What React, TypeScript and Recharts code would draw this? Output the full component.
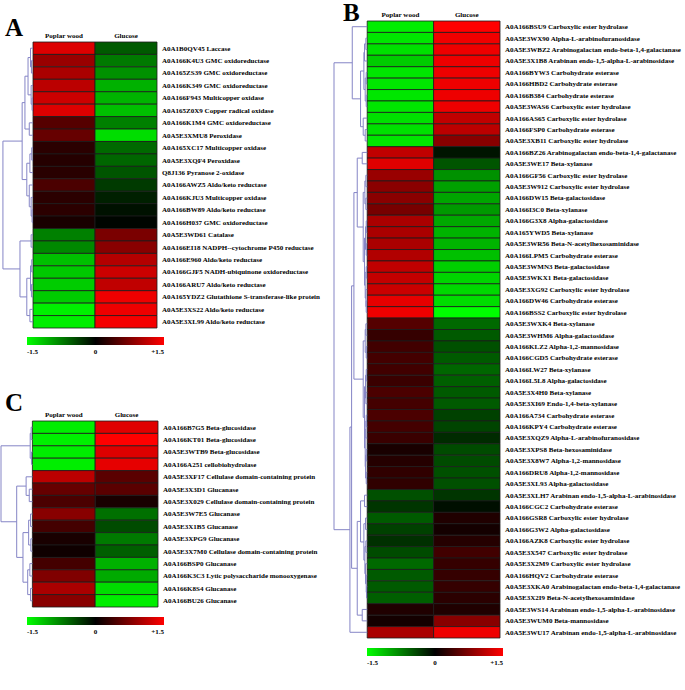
import React from 'react';
import { ComposedChart, XAxis, YAxis, Scatter, ReferenceArea, ReferenceLine } from 'recharts';

type Tree = number | [number, Tree, Tree];

const columns = ['Poplar wood', 'Glucose'];
const scaleTicks = [-1.5, 0, 1.5];

const aLabels = [
  'A0A1B0QV45 Laccase',
  'A0A166K4U3 GMC oxidoreductase',
  'A0A165ZS39 GMC oxidoreductase',
  'A0A166K349 GMC oxidoreductase',
  'A0A166F943 Multicopper oxidase',
  'A0A165Z0X9 Copper radical oxidase',
  'A0A166K1M4 GMC oxidoreductase',
  'A0A5E3XMU8 Peroxidase',
  'A0A165XC17 Multicopper oxidase',
  'A0A5E3XQF4 Peroxidase',
  'Q8J136 Pyranose 2-oxidase',
  'A0A166AWZ5 Aldo/keto reductase',
  'A0A166KJU3 Multicopper oxidase',
  'A0A166BW89 Aldo/keto reductase',
  'A0A166H037 GMC oxidoreductase',
  'A0A5E3WD61 Catalase',
  'A0A166EI18 NADPH--cytochrome P450 reductase',
  'A0A166E960 Aldo/keto reductase',
  'A0A166GJF5 NADH-ubiquinone oxidoreductase',
  'A0A166ARU7 Aldo/keto reductase',
  'A0A165YDZ2 Glutathione S-transferase-like protein',
  'A0A5E3XS22 Aldo/keto reductase',
  'A0A5E3XL99 Aldo/keto reductase',
];
const aPoplar = [1.3, 0.9, 1.0, 1.1, 1.2, 1.3, 0.5, 0.6, 0.25, 0.22, 0.24, 0.44, 0.25, 0.25, 0.15, -0.75, -0.8, -1.13, -1.18, -1.2, -1.2, -1.41, -1.4];
const aGlucose = [-0.53, -0.72, -0.85, -1.04, -1.06, -1.13, -0.75, -1.3, -0.62, -0.6, -0.5, -0.34, -0.19, -0.1, -0.03, 0.72, 0.8, 1.06, 1.2, 1.13, 1.4, 1.4, 1.44];
const aTree: Tree = [0.97,
  [0.35,
    [0.26, [0.16, [0.08, 0, [0.05, 1, 2]], [0.06, 3, [0.03, 4, 5]]], [0.12, 6, 7]],
    [0.2, [0.1, [0.04, 8, 9], 10], [0.12, 11, [0.06, 12, [0.03, 13, 14]]]]],
  [0.42, [0.06, 15, 16], [0.2, [0.08, [0.04, 17, 18], [0.05, 19, 20]], [0.1, 21, 22]]]];

const bLabels = [
  'A0A166BSU9 Carboxylic ester hydrolase',
  'A0A5E3WX90 Alpha-L-arabinofuranosidase',
  'A0A5E3WBZ2 Arabinogalactan endo-beta-1,4-galactanase',
  'A0A5E3X1B8 Arabinan endo-1,5-alpha-L-arabinosidase',
  'A0A166BYW3 Carbohydrate esterase',
  'A0A166HBD2 Carbohydrate esterase',
  'A0A166B384 Carbohydrate esterase',
  'A0A5E3WAS6 Carboxylic ester hydrolase',
  'A0A166AS65 Carboxylic ester hydrolase',
  'A0A166FSP0 Carbohydrate esterase',
  'A0A5E3XB11 Carboxylic ester hydrolase',
  'A0A166BZ26 Arabinogalactan endo-beta-1,4-galactanase',
  'A0A5E3WE17 Beta-xylanase',
  'A0A166GF56 Carboxylic ester hydrolase',
  'A0A5E3W912 Carboxylic ester hydrolase',
  'A0A166DW15 Beta-galactosidase',
  'A0A166I3C0 Beta-xylanase',
  'A0A166G3X8 Alpha-galactosidase',
  'A0A165YWD5 Beta-xylanase',
  'A0A5E3WR56 Beta-N-acetylhexosaminidase',
  'A0A166LPM5 Carbohydrate esterase',
  'A0A5E3WMN3 Beta-galactosidase',
  'A0A5E3WKX1 Beta-galactosidase',
  'A0A5E3XG92 Carboxylic ester hydrolase',
  'A0A166DW46 Carbohydrate esterase',
  'A0A166BSS2 Carboxylic ester hydrolase',
  'A0A5E3WXK4 Beta-xylanase',
  'A0A5E3WHM6 Alpha-galactosidase',
  'A0A166KLZ2 Alpha-1,2-mannosidase',
  'A0A166CGD5 Carbohydrate esterase',
  'A0A166LW27 Beta-xylanase',
  'A0A166L5L8 Alpha-galactosidase',
  'A0A5E3X4H0 Beta-xylanase',
  'A0A5E3XI69 Endo-1,4-beta-xylanase',
  'A0A166A734 Carbohydrate esterase',
  'A0A166KPY4 Carbohydrate esterase',
  'A0A5E3XQZ9  Alpha-L-arabinofuranosidase',
  'A0A5E3XPS8 Beta-hexosaminidase',
  'A0A5E3X8W7 Alpha-1,2-mannosidase',
  'A0A166DRU8 Alpha-1,2-mannosidase',
  'A0A5E3XL93 Alpha-galactosidase',
  'A0A5E3XLH7 Arabinan endo-1,5-alpha-L-arabinosidase',
  'A0A166CGC2 Carbohydrate esterase',
  'A0A166GSR8 Carboxylic ester hydrolase',
  'A0A166G3W2 Alpha-galactosidase',
  'A0A166AZK8 Carboxylic ester hydrolase',
  'A0A5E3X547 Carboxylic ester hydrolase',
  'A0A5E3X2M9 Carboxylic ester hydrolase',
  'A0A166HQV2 Carbohydrate esterase',
  'A0A5E3XKA0 Arabinogalactan endo-beta-1,4-galactanase',
  'A0A5E3X2I9 Beta-N-acetylhexosaminidase',
  'A0A5E3WS14 Arabinan endo-1,5-alpha-L-arabinosidase',
  'A0A5E3WUM0 Beta-mannosidase',
  'A0A5E3WU17 Arabinan endo-1,5-alpha-L-arabinosidase',
];
const bPoplar = [
  -1.4, -1.35, -1.32, -1.2, -1.35, -1.35, -1.35, -1.35, -1.32, -1.32, -1.35,
  1.13, 1.32, 0.9, 0.81, 0.81, 0.7, 1.0, 1.0, 1.0, 1.04, 1.13, 1.15, 1.18, 1.35, 1.4,
  0.5, 0.31, 0.38, 0.4, 0.38, 0.34, 0.44, 0.4, 0.44, 0.4, 0.34, 0.15, 0.22, 0.28, 0.28,
  -0.47, -0.31, -0.53, -0.38, -0.28, -0.44, -0.62, -0.53, -0.53, -0.56,
  0.19, 0.12, 1.0,
];
const bGlucose = [
  1.5, 1.41, 1.4, 1.4, 1.4, 1.4, 1.4, 1.4, 1.13, 1.1, 0.8,
  -0.12, -0.5, -0.85, -0.94, -0.97, -0.9, -0.99, -1.06, -1.06, -1.13, -1.22, -1.25, -1.27, -1.3, -1.5,
  -0.62, -0.53, -0.47, -0.53, -0.6, -0.56, -0.53, -0.53, -0.38, -0.4, -0.25, -0.44, -0.44, -0.47, -0.47,
  -0.31, -0.09, 0.19, 0.12, 0.22, 0.38, 0.31, 0.31, 0.31, 0.25,
  0.19, 0.8, 1.4,
];
const bTree: Tree = [1.0,
  [0.45, 0, [0.2, [0.1, [0.08, [0.04, 1, 2], 3], [0.06, [0.03, 4, 5], [0.03, 6, 7]]], [0.12, 8, [0.06, 9, 10]]]],
  [0.52,
    [0.47,
      [0.4,
        [0.3, [0.15, 11, 12], [0.12, [0.07, [0.04, 13, 14], [0.04, 15, 16]], [0.08, [0.05, [0.03, 17, 18], [0.03, 19, 20]], [0.06, [0.03, 21, 22], [0.04, 23, [0.03, 24, 25]]]]]],
        [0.12, [0.06, [0.04, 26, 27], [0.03, 28, 29]], [0.08, [0.05, [0.03, 30, 31], [0.04, 32, 33]], [0.06, [0.04, [0.03, 34, 35], 36], [0.05, [0.03, 37, 38], [0.03, 39, 40]]]]]],
      [0.3, [0.2, [0.08, 41, 42], [0.1, [0.05, 43, 44], [0.07, [0.04, 45, 46], [0.05, 47, [0.03, 48, [0.02, 49, 50]]]]]], [0.15, 51, 52]]],
    53]];

const cLabels = [
  'A0A166B7G5 Beta-glucosidase',
  'A0A166KT01 Beta-glucosidase',
  'A0A5E3WTB9 Beta-glucosidase',
  'A0A166A251 cellobiohydrolase',
  'A0A5E3XF17 Cellulase domain-containing protein',
  'A0A5E3X3D1 Glucanase',
  'A0A5E3X029 Cellulase domain-containing protein',
  'A0A5E3W7E5 Glucanase',
  'A0A5E3X1B5 Glucanase',
  'A0A5E3XPG9 Glucanase',
  'A0A5E3X7M0 Cellulase domain-containing protein',
  'A0A166BSP0 Glucanase',
  'A0A166K3C3 Lytic polysaccharide monooxygenase',
  'A0A166K8S4 Glucanase',
  'A0A166BU26 Glucanase',
];
const cPoplar = [-1.4, -1.41, -1.4, -1.4, 1.1, 0.6, 0.44, 0.8, 0.4, 0.15, 0.09, 0.4, 0.75, 1.0, 0.8];
const cGlucose = [1.32, 1.5, 1.3, 1.35, 0.53, 0.53, 0.15, -0.66, -0.44, -0.72, -0.56, -1.04, -1.0, -1.3, -1.4];
const cTree: Tree = [1.0,
  [0.07, [0.04, 0, 1], [0.03, 2, 3]],
  [0.5, [0.2, 4, [0.1, 5, 6]], [0.3, [0.12, [0.06, 7, 8], [0.05, 9, 10]], [0.15, [0.08, 11, 12], [0.06, 13, 14]]]]];

const FONT = '"Liberation Serif", "Times New Roman", serif';
const DENDRO_W = 0.5;
const TREE_COLOR = '#8585c6';

function heatColor(v: number) {
  const t = Math.max(-1, Math.min(1, v / 1.5));
  const c = Math.round(Math.abs(t) * 255);
  return t >= 0 ? `rgb(${c},0,0)` : `rgb(0,${c},0)`;
}

type Pt = { x: number; y: number };

function dendroSegments(tree: Tree) {
  const segs: Array<[Pt, Pt]> = [];
  const walk = (node: Tree): Pt => {
    if (typeof node === 'number') return { x: 0, y: node + 0.5 };
    const [h, l, r] = node;
    const a = walk(l);
    const b = walk(r);
    const x = -h * DENDRO_W;
    segs.push([{ x, y: a.y }, { x, y: b.y }]);
    segs.push([{ x, y: a.y }, { x: a.x, y: a.y }]);
    segs.push([{ x, y: b.y }, { x: b.x, y: b.y }]);
    return { x, y: (a.y + b.y) / 2 };
  };
  walk(tree);
  return segs;
}

type PanelProps = {
  labels: string[];
  poplar: number[];
  glucose: number[];
  tree: Tree;
  left: number;
  top: number;
  width: number;
  height: number;
  margin: { top: number; right: number; bottom: number; left: number };
  headerHeight: number;
  labelWidth: number;
};

function HeatPanel({ labels, poplar, glucose, tree, left, top, width, height, margin, headerHeight, labelWidth }: PanelProps) {
  const n = labels.length;
  const centers = labels.map((_, i) => ({ x: 0.5, y: i + 0.5 }));
  const segs = dendroSegments(tree);

  const headerTick = (props: any) => (
    <text x={props.x} y={props.y} textAnchor="middle" fontSize={7} fontWeight="bold" fontFamily={FONT} fill="#000">
      {columns[Math.floor(props.payload.value)]}
    </text>
  );
  const rowTick = (props: any) => (
    <text x={props.x} y={props.y} dy="0.34em" textAnchor="start" fontSize={7} fontWeight="bold" fontFamily={FONT} fill="#000">
      {labels[Math.floor(props.payload.value)]}
    </text>
  );

  return (
    <div style={{ position: 'absolute', left, top }}>
      <ComposedChart width={width} height={height} margin={margin}>
        <XAxis
          dataKey="x"
          type="number"
          orientation="top"
          domain={[-DENDRO_W, 2]}
          allowDataOverflow
          ticks={[0.5, 1.5]}
          axisLine={false}
          tickLine={false}
          tickSize={0}
          tickMargin={4}
          height={headerHeight}
          tick={headerTick}
          interval={0}
        />
        <YAxis
          dataKey="y"
          type="number"
          orientation="right"
          domain={[0, n]}
          reversed
          allowDataOverflow
          ticks={labels.map((_, i) => i + 0.5)}
          axisLine={false}
          tickLine={false}
          tickSize={0}
          tickMargin={5}
          width={labelWidth}
          tick={rowTick}
          interval={0}
        />
        {labels.map((_, i) => (
          <ReferenceArea
            key={`p${i}`}
            x1={0}
            x2={1}
            y1={i}
            y2={i + 1}
            fill={heatColor(poplar[i])}
            fillOpacity={1}
            stroke="#1c1c1c"
            strokeWidth={0.8}
            ifOverflow="visible"
          />
        ))}
        {labels.map((_, i) => (
          <ReferenceArea
            key={`g${i}`}
            x1={1}
            x2={2}
            y1={i}
            y2={i + 1}
            fill={heatColor(glucose[i])}
            fillOpacity={1}
            stroke="#1c1c1c"
            strokeWidth={0.8}
            ifOverflow="visible"
          />
        ))}
        {segs.map((s, i) => (
          <ReferenceLine key={`d${i}`} segment={s} stroke={TREE_COLOR} strokeWidth={1} ifOverflow="visible" />
        ))}
        <Scatter data={centers} fill="none" isAnimationActive={false} shape={() => <g />} />
      </ComposedChart>
    </div>
  );
}

function ColorScale({ id, left, top, width }: { id: string; left: number; top: number; width: number }) {
  const pad = 15;
  const renderTick = (props: any) => {
    const { x, y, payload } = props;
    const v = payload.value as number;
    const anchor = v < 0 ? 'start' : v > 0 ? 'end' : 'middle';
    const text = v > 0 ? `+${v}` : String(v);
    return (
      <text x={x} y={y + 7} textAnchor={anchor} fontSize={7} fontWeight="bold" fontFamily={FONT} fill="#000">
        {text}
      </text>
    );
  };
  return (
    <div style={{ position: 'absolute', left: left - pad, top: top - 2 }}>
      <ComposedChart width={width + pad * 2} height={26} margin={{ top: 2, right: pad, bottom: 2, left: pad }}>
        <defs>
          <linearGradient id={id} x1="0" y1="0" x2="1" y2="0">
            <stop offset="0%" stopColor="#00ff00" />
            <stop offset="50%" stopColor="#000000" />
            <stop offset="100%" stopColor="#ff0000" />
          </linearGradient>
        </defs>
        <XAxis
          dataKey="x"
          type="number"
          domain={[-1.5, 1.5]}
          ticks={scaleTicks}
          axisLine={false}
          tickLine={false}
          tickSize={0}
          tickMargin={2}
          height={14}
          tick={renderTick}
          interval={0}
        />
        <YAxis dataKey="y" type="number" domain={[0, 1]} hide />
        <ReferenceArea x1={-1.5} x2={1.5} y1={0} y2={1} fill={`url(#${id})`} fillOpacity={1} ifOverflow="visible" />
        <Scatter data={scaleTicks.map((x) => ({ x, y: 0.5 }))} fill="none" isAnimationActive={false} shape={() => <g />} />
      </ComposedChart>
    </div>
  );
}

const letterStyle: React.CSSProperties = {
  position: 'absolute',
  fontFamily: FONT,
  fontWeight: 'bold',
  fontSize: 25,
  lineHeight: '25px',
  color: '#000',
};

export default function App() {
  return (
    <div style={{ position: 'absolute', left: 0, top: 0, width: 685, height: 690, background: '#fff', overflow: 'hidden' }}>
      <HeatPanel
        labels={aLabels}
        poplar={aPoplar}
        glucose={aGlucose}
        tree={aTree}
        left={0}
        top={0}
        width={340}
        height={332}
        margin={{ top: 22, right: 8, bottom: 4, left: 2 }}
        headerHeight={20}
        labelWidth={175}
      />
      <ColorScale id="gradA" left={27} top={337} width={137} />
      <HeatPanel
        labels={bLabels}
        poplar={bPoplar}
        glucose={bGlucose}
        tree={bTree}
        left={332}
        top={0}
        width={353}
        height={640}
        margin={{ top: 7, right: 5, bottom: 2, left: 2 }}
        headerHeight={14}
        labelWidth={180}
      />
      <ColorScale id="gradB" left={367} top={648} width={136} />
      <HeatPanel
        labels={cLabels}
        poplar={cPoplar}
        glucose={cGlucose}
        tree={cTree}
        left={0}
        top={380}
        width={340}
        height={230}
        margin={{ top: 21, right: 7, bottom: 3, left: 1 }}
        headerHeight={20}
        labelWidth={175}
      />
      <ColorScale id="gradC" left={27} top={617} width={137} />
      <div style={{ ...letterStyle, left: 5, top: 15 }}>A</div>
      <div style={{ ...letterStyle, left: 343, top: 0 }}>B</div>
      <div style={{ ...letterStyle, left: 5, top: 390 }}>C</div>
    </div>
  );
}
